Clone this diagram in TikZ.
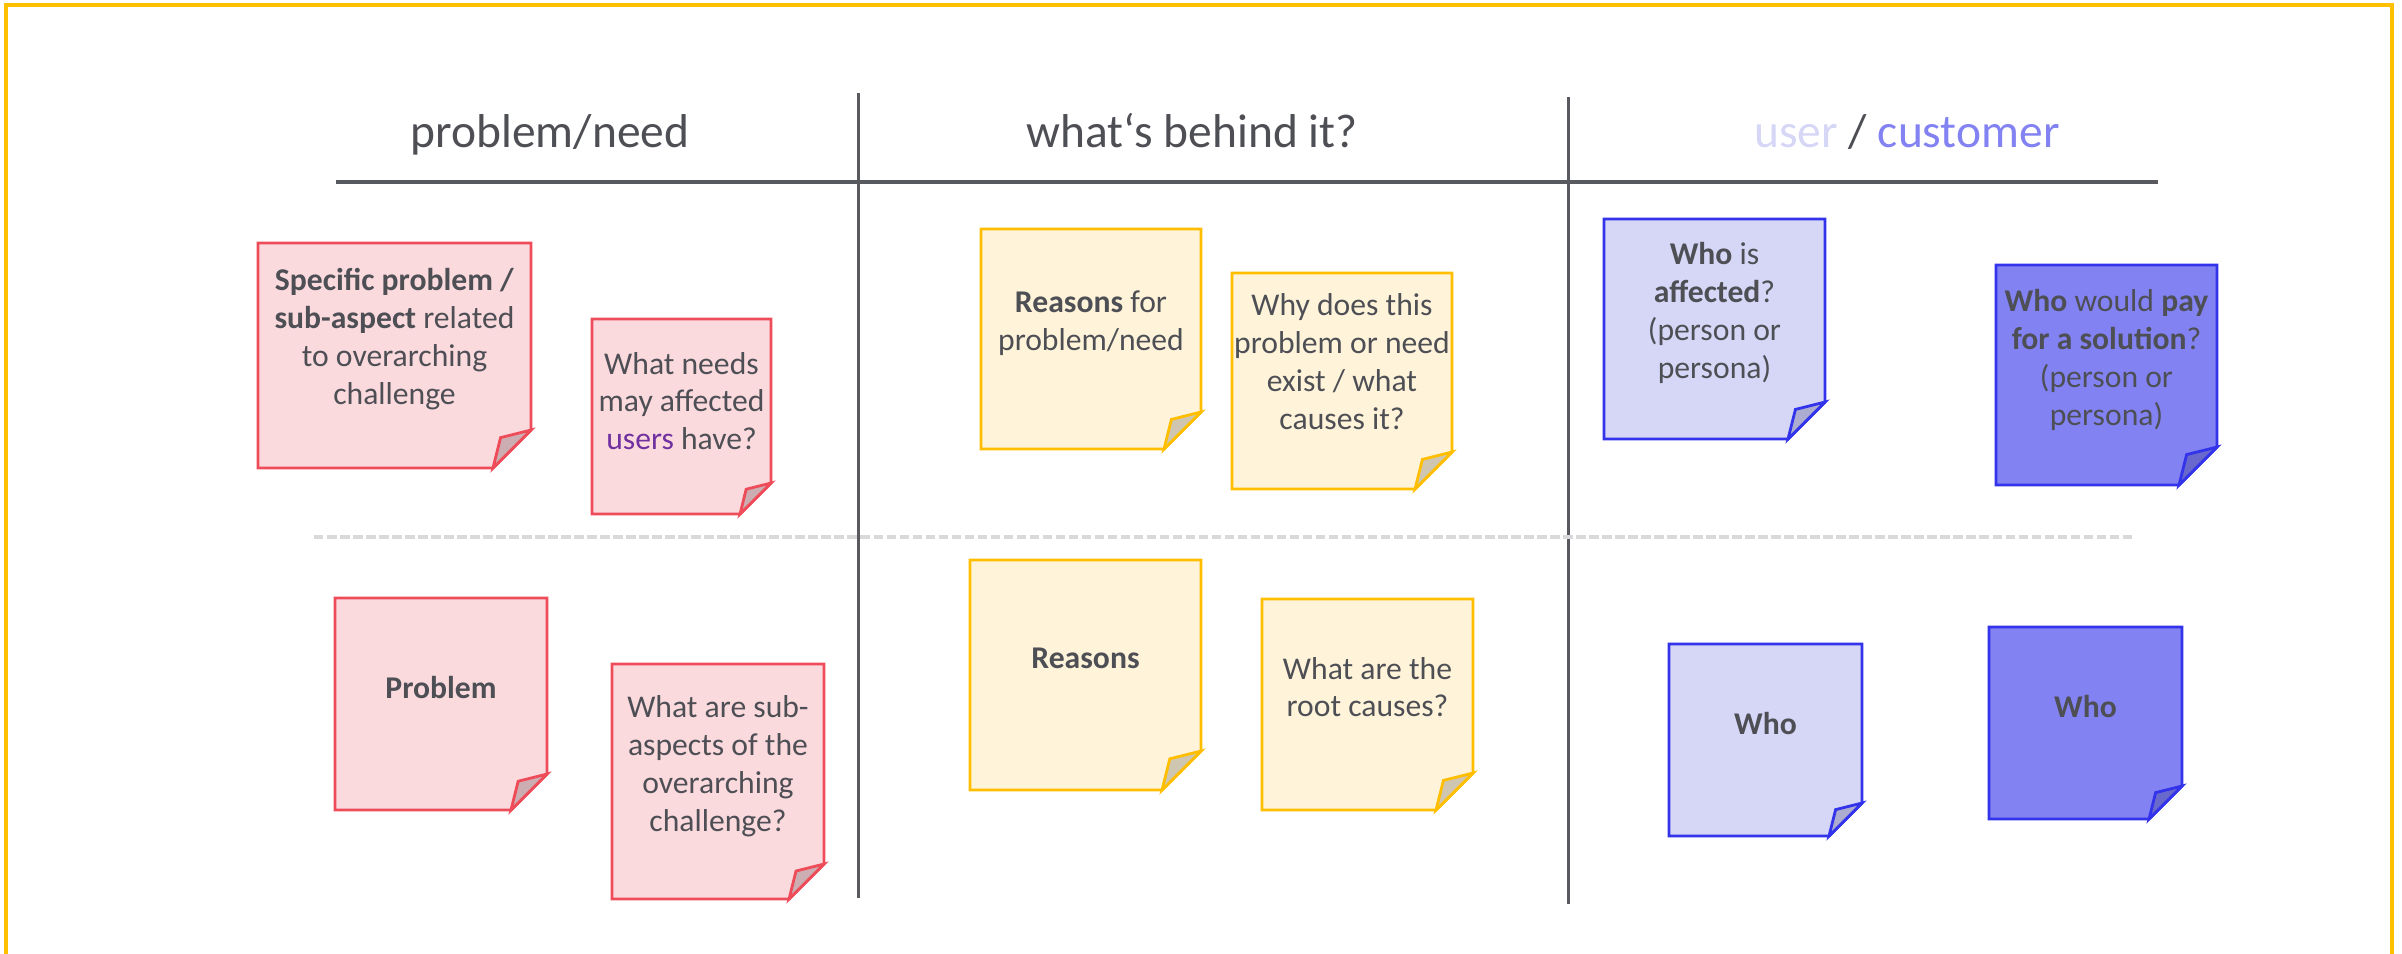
\documentclass[tikz,border=0pt]{standalone}
\usepackage{fontspec}
\setmainfont{Carlito}

\definecolor{textgray}{RGB}{77,79,85}
\definecolor{linegray}{RGB}{89,90,95}
\definecolor{dashgray}{RGB}{217,217,217}
\definecolor{frameyellow}{RGB}{255,192,0}
\definecolor{userpurple}{RGB}{112,48,160}
\definecolor{redfill}{RGB}{251,218,222}
\definecolor{redborder}{RGB}{239,76,90}
\definecolor{redflap}{RGB}{204,174,178}
\definecolor{yellowfill}{RGB}{255,243,218}
\definecolor{yellowborder}{RGB}{255,190,0}
\definecolor{yellowflap}{RGB}{207,198,178}
\definecolor{paleblue}{RGB}{214,214,247}
\definecolor{blueborder}{RGB}{51,51,235}
\definecolor{paleblueflap}{RGB}{172,172,208}
\definecolor{deepblue}{RGB}{130,130,242}
\definecolor{deepblueflap}{RGB}{105,105,205}

% sticky note: name, colour scheme, x1, y1, x2, y2, fold size (all in px)
\newcommand\stickynote[7]{%
  \draw[#2note] (#3,#4) -- (#5,#4) -- (#5,{#6-#7}) -- ({#5-#7},#6) -- (#3,#6) -- cycle;
  \draw[#2flap] ({#5-#7},#6) -- ({#5-0.8*#7},{#6-0.8*#7}) -- (#5,{#6-#7}) -- cycle;
  \coordinate (#1) at ({(#3+#5)/2},{(#4+#6)/2});
}

\begin{document}
\begin{tikzpicture}[x=0.01cm,y=-0.01cm,
  line join=miter,
  rednote/.style={draw=redborder, fill=redfill, line width=0.8pt},
  redflap/.style={draw=redborder, fill=redflap, line width=0.8pt},
  yellownote/.style={draw=yellowborder, fill=yellowfill, line width=0.8pt},
  yellowflap/.style={draw=yellowborder, fill=yellowflap, line width=0.8pt},
  palenote/.style={draw=blueborder, fill=paleblue, line width=0.8pt},
  paleflap/.style={draw=blueborder, fill=paleblueflap, line width=0.8pt},
  deepnote/.style={draw=blueborder, fill=deepblue, line width=0.8pt},
  deepflap/.style={draw=blueborder, fill=deepblueflap, line width=0.8pt},
  notetext/.style={font=\fontsize{9}{10.8}\selectfont, text=textgray, align=center, inner sep=0pt, anchor=north},
  header/.style={font=\fontsize{13.5}{16}\selectfont, text=textgray, inner sep=0pt, anchor=base},
  divider/.style={draw=linegray, line width=0.85pt},
  rowsep/.style={draw=dashgray, line width=1.1pt, dash pattern=on 2.7pt off 1pt}
]
\useasboundingbox (0,0) rectangle (2402,953);

% outer frame (open at the bottom edge of the page)
\draw[frameyellow, line width=1.15pt] (6,990) -- (6,5) -- (2392,5) -- (2392,990);

% column headers
\node[header] (hproblem) at (550,147) {problem/need};
\node[header] (hbehind) at (1192,147) {what‘s behind it?};
\node[header] (huser) at (1907,147) {\textcolor{paleblue}{user} / \textcolor{deepblue}{customer}};

% grid lines
\coordinate (hl) at (336,182);
\coordinate (hr) at (2158,182);
\draw[divider, line width=1.15pt] (hl) -- (hr);
\coordinate (v1t) at (858,93);
\coordinate (v1b) at (858,898);
\coordinate (v2t) at (1568,97);
\coordinate (v2b) at (1568,904);
\draw[divider] (v1t) -- (v1b);
\draw[divider] (v2t) -- (v2b);
\coordinate (dl) at (314,537);
\coordinate (dr) at (2134,537);
\draw[rowsep] (dl) -- (dr);

% upper row
\stickynote{nA}{red}{258}{243}{531}{468}{38}
\node[notetext] (tA) at (394.5,263.4) {\strut\textbf{Specific problem /}\\\textbf{sub-aspect} related\\to overarching\\challenge};
\stickynote{nB}{red}{592}{319}{771}{514}{31}
\node[notetext] (tB) at (681.5,346.7) {\strut What needs\\may affected\\\textcolor{userpurple}{users} have?};
\stickynote{nC}{yellow}{981}{229}{1201}{449}{37}
\node[notetext] (tC) at (1091,285.1) {\strut\textbf{Reasons} for\\problem/need};
\stickynote{nD}{yellow}{1232}{273}{1452}{489}{37}
\node[notetext] (tD) at (1342,288.4) {\strut Why does this\\problem or need\\exist / what\\causes it?};
\stickynote{nE}{pale}{1604}{219}{1825}{439}{37}
\node[notetext] (tE) at (1714.5,237.4) {\strut\textbf{Who} is\\\textbf{affected}?\\(person or\\persona)};
\stickynote{nF}{deep}{1996}{265}{2217}{485}{38}
\node[notetext] (tF) at (2106.5,284.4) {\strut\textbf{Who} would \textbf{pay}\\\textbf{for a solution}?\\(person or\\persona)};

% lower row
\stickynote{nG}{red}{335}{598}{547}{810}{36}
\node[notetext] (tG) at (441,671.1) {\strut\textbf{Problem}};
\stickynote{nH}{red}{612}{664}{824}{899}{35}
\node[notetext] (tH) at (718,690.1) {\strut What are sub-\\aspects of the\\overarching\\challenge?};
\stickynote{nI}{yellow}{970}{560}{1201}{790}{39}
\node[notetext] (tI) at (1085.5,640.7) {\strut\textbf{Reasons}};
\stickynote{nJ}{yellow}{1262}{599}{1473}{810}{37}
\node[notetext] (tJ) at (1367.5,651.7) {\strut What are the\\root causes?};
\stickynote{nK}{pale}{1669}{644}{1862}{836}{33}
\node[notetext] (tK) at (1765.5,707.4) {\strut\textbf{Who}};
\stickynote{nL}{deep}{1989}{627}{2182}{819}{33}
\node[notetext] (tL) at (2085.5,690.1) {\strut\textbf{Who}};
\end{tikzpicture}
\end{document}
